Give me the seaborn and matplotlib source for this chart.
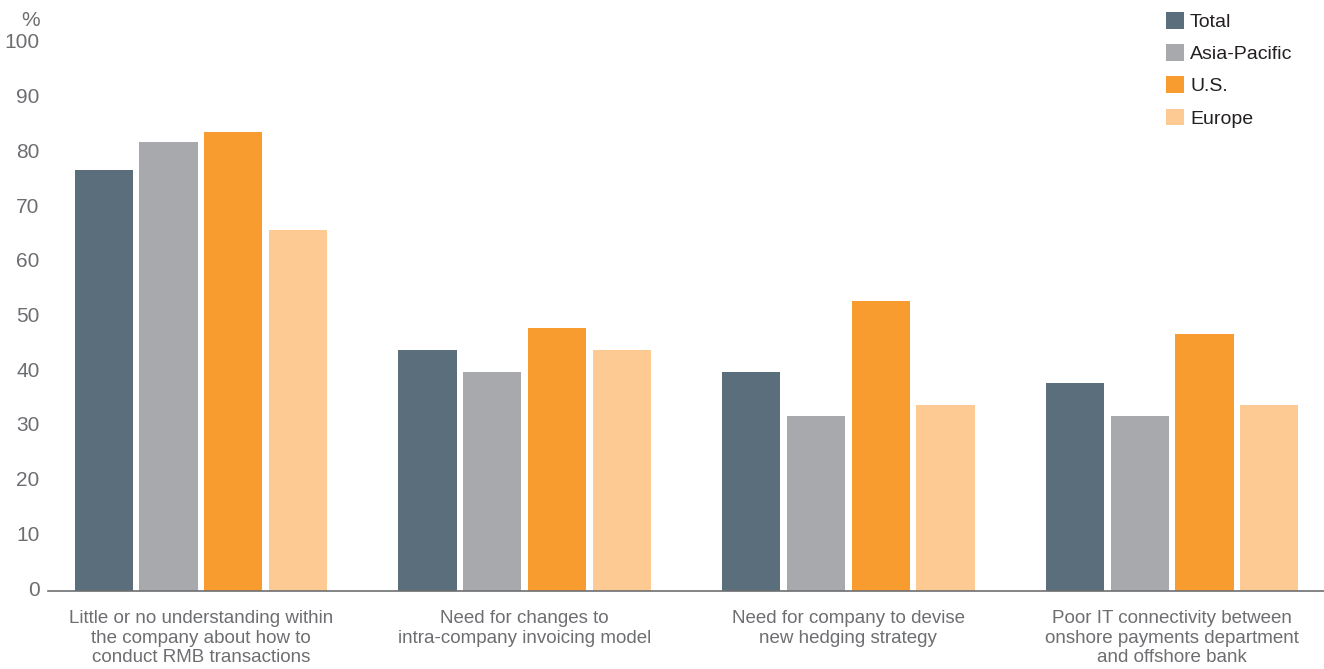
import matplotlib
matplotlib.use("Agg")
import matplotlib.pyplot as plt
import matplotlib.transforms as mtransforms
import seaborn as sns
import pandas as pd
from matplotlib.patches import Patch

categories = [
    "Little or no understanding within\nthe company about how to\nconduct RMB transactions",
    "Need for changes to\nintra-company invoicing model",
    "Need for company to devise\nnew hedging strategy",
    "Poor IT connectivity between\nonshore payments department\nand offshore bank",
]
series = ["Total", "Asia-Pacific", "U.S.", "Europe"]
total = [77, 44, 40, 38]
asia_pacific = [82, 40, 32, 32]
us = [84, 48, 53, 47]
europe = [66, 44, 34, 34]
yticks = [0, 10, 20, 30, 40, 50, 60, 70, 80, 90, 100]
colors = ["#5b6e7b", "#a8a9ad", "#f89c30", "#fdca94"]

rows = []
for s, vals in zip(series, [total, asia_pacific, us, europe]):
    for c, v in zip(categories, vals):
        rows.append({"category": c, "series": s, "value": v})
df = pd.DataFrame(rows)

sns.set_theme(style="white")
plt.rcParams["font.family"] = ["Liberation Sans", "DejaVu Sans"]

W, H = 1324, 669
fig = plt.figure(figsize=(W / 100, H / 100), dpi=100)
left_px = 48
ax = fig.add_axes([left_px / W, 78 / H, 1 - left_px / W, (591 - 44) / H])

sns.barplot(data=df, x="category", y="value", hue="series", order=categories,
            hue_order=series, palette=colors, width=0.8, gap=0.1,
            saturation=1, ax=ax, legend=False, linewidth=0)

# x range chosen so group centres fall at ~201 px and spacing ~324 px
ax.set_xlim(-(201 - left_px) / 323.7, 3 + (W - 1172) / 323.7)
ax.set_ylim(0, 100)
ax.set_yticks(yticks)
ax.set_xlabel("")
ax.set_ylabel("")
for sp in ["top", "right", "left"]:
    ax.spines[sp].set_visible(False)
ax.spines["bottom"].set_color("#6d6e71")
ax.spines["bottom"].set_linewidth(1.2)
ax.tick_params(axis="y", length=0, pad=6, labelsize=15, labelcolor="#6d6e71")
ax.tick_params(axis="x", length=0, pad=13.5, labelsize=13.5, labelcolor="#6d6e71")
offset = mtransforms.ScaledTranslation(0, 3 / 100, fig.dpi_scale_trans)
for lbl in ax.get_yticklabels():
    lbl.set_transform(lbl.get_transform() + offset)
for lbl in ax.get_xticklabels():
    lbl.set_linespacing(1.22)

fig.text(40 / W, 1 - 20 / H, "%", ha="right", va="center", fontsize=15, color="#6d6e71")

handles = [Patch(facecolor=c, edgecolor="none", label=s) for c, s in zip(colors, series)]
leg = fig.legend(handles=handles, loc="upper left", bbox_to_anchor=(1158 / W, 1 - 4 / H),
                 frameon=False, fontsize=14, handlelength=0.95, handleheight=0.95,
                 handletextpad=0.3, labelspacing=0.68, borderaxespad=0)
for t in leg.get_texts():
    t.set_color("#231f20")

fig.savefig("out.png", dpi=100)
